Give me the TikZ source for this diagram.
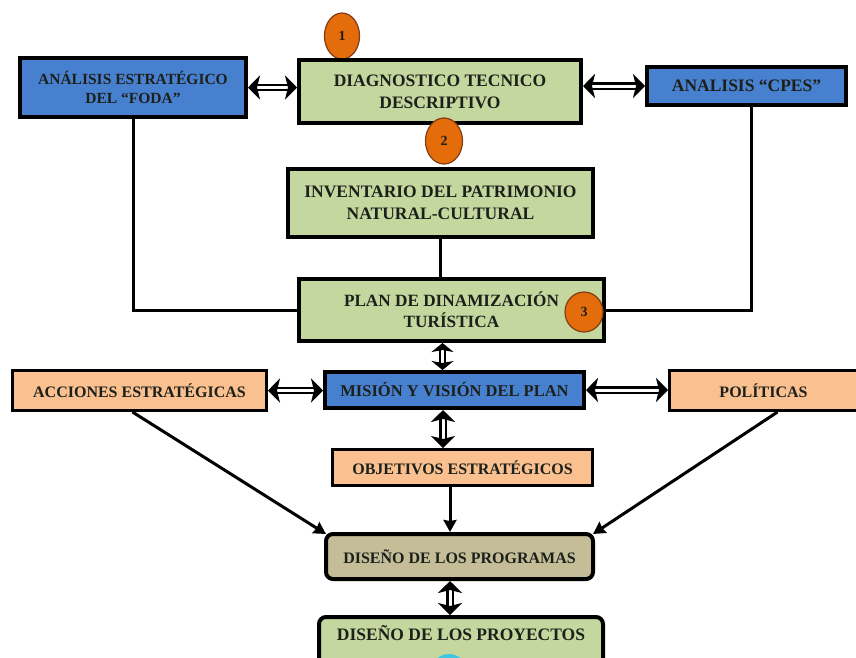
\documentclass[tikz,border=0pt]{standalone}
\usepackage{fontspec}
\setmainfont{Liberation Serif}
\usetikzlibrary{arrows.meta,shapes.geometric}
\definecolor{bxblue}{RGB}{72,128,208}
\definecolor{bxgreen}{RGB}{196,215,158}
\definecolor{bxpeach}{RGB}{250,192,144}
\definecolor{bxtan}{RGB}{196,189,151}
\definecolor{bxorange}{RGB}{228,108,10}
\definecolor{bxorangedark}{RGB}{130,60,20}
\definecolor{bxtext}{RGB}{28,32,26}
\definecolor{bxcyan}{RGB}{60,200,225}
\begin{document}
\begin{tikzpicture}[x=1pt,y=-1pt,
  box/.style={draw=black, line width=4pt, inner sep=0pt, align=center, text=bxtext},
  fbig/.style={font=\bfseries\fontsize{17.5}{22}\selectfont},
  fmid/.style={font=\bfseries\fontsize{16}{19}\selectfont},
  num/.style={ellipse, draw=bxorangedark, line width=1.2pt, fill=bxorange, inner sep=0pt, text=bxtext, font=\bfseries\fontsize{14}{14}\selectfont},
  conn/.style={draw=black, line width=3pt},
  arr/.style={draw=black, line width=3pt, -{Stealth[length=12pt,width=13pt,inset=1pt]}},
  dbl/.style={draw=black, line width=2.4pt, double=white, double distance=3pt,
    {Stealth[length=12pt,width=24pt,inset=3pt]}-{Stealth[length=12pt,width=24pt,inset=3pt]}},
  dbls/.style={draw=black, line width=2.4pt, double=white, double distance=3pt,
    {Stealth[length=9pt,width=22pt,inset=2pt]}-{Stealth[length=9pt,width=22pt,inset=2pt]}}
]
\useasboundingbox (0,0) rectangle (856,657);
\fill[white] (0,0) rectangle (856,657);

% number 1 behind the box
\node[num, minimum width=35pt, minimum height=46pt] (n1) at (342,36) {1};

% top row
\node[box, fill=bxblue, minimum width=226pt, minimum height=59pt, font=\bfseries\fontsize{15.5}{19}\selectfont] (foda) at (133,87.5) {ANÁLISIS ESTRATÉGICO\\DEL “FODA”};
\node[box, fill=bxgreen, fbig, minimum width=282pt, minimum height=63pt] (diag) at (440,91.5) {DIAGNOSTICO TECNICO\\DESCRIPTIVO};
\node[box, fill=bxblue, fbig, minimum width=199pt, minimum height=38pt] (cpes) at (746.5,86) {ANALISIS “CPES”};

% middle
\node[box, fill=bxgreen, fbig, minimum width=305pt, minimum height=68pt] (inv) at (440.5,203) {INVENTARIO DEL PATRIMONIO\\NATURAL-CULTURAL};
\node[box, fill=bxgreen, font=\bfseries\fontsize{17.2}{21}\selectfont, minimum width=305pt, minimum height=62pt] (plan) at (451.5,310) {PLAN DE DINAMIZACIÓN\\TURÍSTICA};

% row of three
\node[box, line width=3pt, fill=bxpeach, fmid, minimum width=254pt, minimum height=40pt] (acc) at (139.5,390.5) {ACCIONES ESTRATÉGICAS};
\node[box, fill=bxblue, font=\bfseries\fontsize{16.5}{19}\selectfont, minimum width=259pt, minimum height=36pt] (mis) at (454.5,390) {MISIÓN Y VISIÓN DEL PLAN};
\node[box, line width=3pt, fill=bxpeach, fmid, minimum width=200pt, minimum height=40pt, text width=188pt] (pol) at (769.5,390.5) {\hspace*{-12pt}POLÍTICAS};

\node[box, line width=3pt, fill=bxpeach, fmid, minimum width=260pt, minimum height=36pt] (obj) at (462.5,467.5) {OBJETIVOS ESTRATÉGICOS};

% bottom
\node[box, fill=bxtan, fmid, rounded corners=7pt, minimum width=267pt, minimum height=45pt] (prog) at (459.5,556.5) {DISEÑO DE LOS PROGRAMAS};
\node[box, fill=bxgreen, rounded corners=7pt, minimum width=284pt, minimum height=63pt] (proy) at (461,648.5) {};
\node[text=bxtext, fbig, inner sep=0pt] (proytext) at (461,633) {DISEÑO DE LOS PROYECTOS};
\begin{scope}
\clip (proy.north west) rectangle (proy.south east);
\fill[bxcyan] (449,672) circle (18pt);
\fill[bxcyan!40!white] (449,672) circle (11pt);
\end{scope}

% connectors
\draw[conn] (foda.south) |- (plan.west);
\draw[conn] ([xshift=5pt]cpes.south) |- (plan.east);
\draw[conn] (inv.south) -- (inv.south |- plan.north);

\draw[dbl] (foda.east) -- (foda.east -| diag.west);
\draw[dbl] (cpes.west -| diag.east) -- (cpes.west);
\draw[dbls] ([xshift=-9pt]plan.south) -- ([xshift=-9pt]plan.south |- mis.north);
\draw[dbl] ([xshift=-11.5pt]mis.south) -- ([xshift=-11.5pt]mis.south |- obj.north);
\draw[dbl] (acc.east) -- (acc.east -| mis.west);
\draw[dbl] (mis.east) -- (mis.east -| pol.west);
\draw[dbl] ([xshift=-9.5pt]prog.south) -- ([xshift=-9.5pt]prog.south |- proy.north);

\draw[arr] ([xshift=-7pt]acc.south) -- ([xshift=2pt,yshift=-2pt]prog.north west);
\draw[arr] ([xshift=8pt]pol.south) -- ([xshift=-2pt,yshift=-2pt]prog.north east);
\draw[arr] ([xshift=-12.5pt]obj.south) -- ([xshift=-12.5pt]obj.south |- prog.north);

% number circles on top
\node[num, minimum width=37pt, minimum height=46pt] (n2) at (444,141) {2};
\node[num, minimum width=38pt, minimum height=40pt] (n3) at (584,312) {3};
\end{tikzpicture}
\end{document}
